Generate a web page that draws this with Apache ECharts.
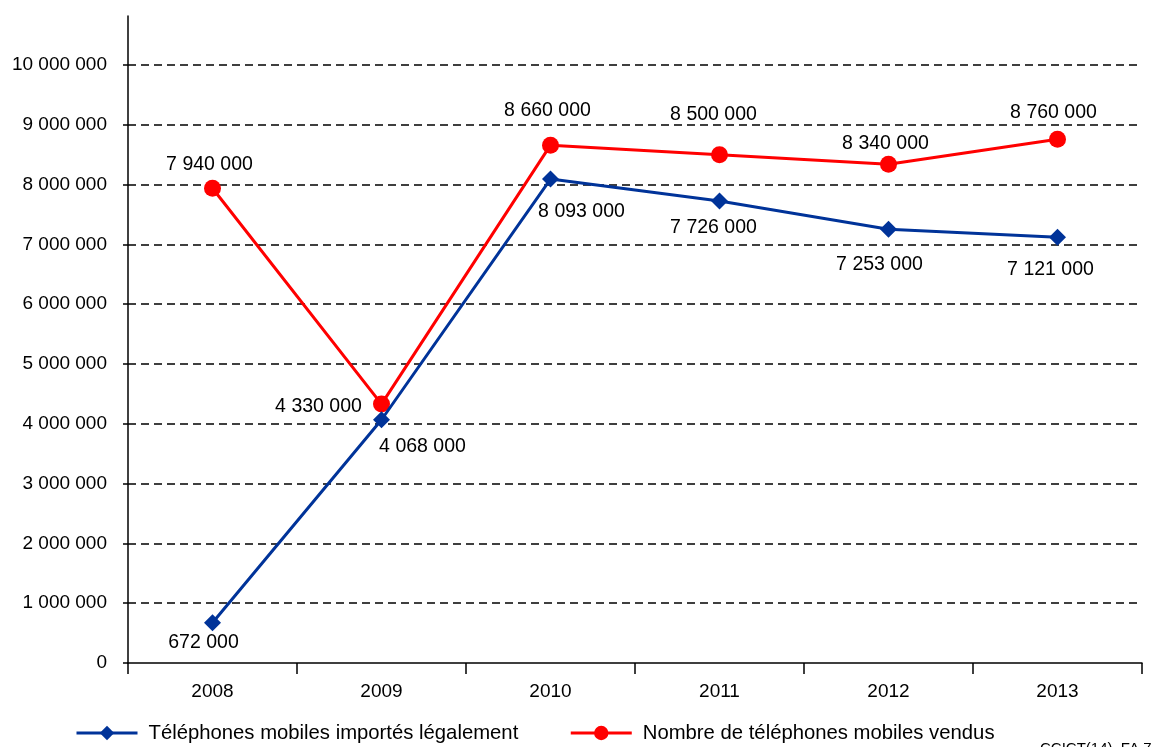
<!DOCTYPE html>
<html><head><meta charset="utf-8">
<script src="https://cdn.jsdelivr.net/npm/echarts@6/dist/echarts.min.js"></script>
<style>html,body{margin:0;padding:0;background:#fff}#c{width:1153px;height:747px}</style>
</head><body><div id="c"></div>
<script>
var categories = ['2008','2009','2010','2011','2012','2013'];
var imported = [672000, 4068000, 8093000, 7726000, 7253000, 7121000];
var sold = [7940000, 4330000, 8660000, 8500000, 8340000, 8760000];
var seriesNames = ['Téléphones mobiles importés légalement', 'Nombre de téléphones mobiles vendus'];
var yTicks = [0, 1000000, 2000000, 3000000, 4000000, 5000000, 6000000, 7000000, 8000000, 9000000, 10000000];
var footnote = 'CCICT(14)_FA 7';

// label offsets (style, kept separate from data)
var importedOffsets = [[-9,20],[41,27],[31,33],[-6,27],[-9,35],[-7,32]];
var soldOffsets = [[-3,-24],[-63,3],[-3,-35],[-6,-40],[-3,-21],[-4,-27]];

function fmt(v){ return String(v).replace(/\B(?=(\d{3})+(?!\d))/g, ' '); }
var FONT = 'Liberation Sans, Arial, sans-serif';

function build(vals, offs){
  return vals.map(function(v,i){
    return {value: v, label: {offset: offs[i]}};
  });
}

var chart = echarts.init(document.getElementById('c'));
chart.setOption({
  animation: false,
  textStyle: {fontFamily: FONT},
  grid: {left: 128, right: 11, top: 16, bottom: 84, containLabel: false},
  legend: {
    left: 75, top: 723, padding: 0, itemWidth: 61, itemHeight: 18, itemGap: 51,
    textStyle: {fontSize: 20.3, color: '#000', fontFamily: FONT, padding: [0,0,0,6]},
    lineStyle: {width: 3},
    data: seriesNames
  },
  xAxis: {
    type: 'category', data: categories, boundaryGap: true,
    axisLine: {lineStyle: {color: '#000', width: 1.5}},
    axisTick: {show: true, length: 11, inside: false, lineStyle: {color: '#000', width: 1.5}},
    axisLabel: {fontSize: 19, color: '#000', margin: 19, fontFamily: FONT}
  },
  yAxis: {
    type: 'value', min: 0, max: 10820000, interval: 1000000,
    axisLine: {show: true, lineStyle: {color: '#000', width: 1.5}},
    axisTick: {show: true, length: 5, lineStyle: {color: '#000', width: 1.5}},
    axisLabel: {fontSize: 19, color: '#000', margin: 21, showMaxLabel: false, fontFamily: FONT,
      formatter: function(v){ return yTicks.indexOf(v) >= 0 ? fmt(v) : ''; }},
    splitLine: {show: true, showMinLine: false, showMaxLine: false, lineStyle: {color: '#000', width: 1.5, type: [8,5]}}
  },
  graphic: [{
    type: 'text', left: 1040, top: 741,
    style: {text: footnote, fontSize: 15, fill: '#000', fontFamily: FONT}
  }],
  series: [
    {
      name: seriesNames[0], type: 'line', data: build(imported, importedOffsets),
      symbol: 'diamond', symbolSize: 17,
      lineStyle: {color: '#003399', width: 3},
      itemStyle: {color: '#003399'},
      label: {show: true, position: 'inside', fontSize: 19.5, color: '#000', fontFamily: FONT,
        formatter: function(p){ return fmt(p.value); }},
      z: 3
    },
    {
      name: seriesNames[1], type: 'line', data: build(sold, soldOffsets),
      symbol: 'circle', symbolSize: 17,
      lineStyle: {color: '#ff0000', width: 3},
      itemStyle: {color: '#ff0000'},
      label: {show: true, position: 'inside', fontSize: 19.5, color: '#000', fontFamily: FONT,
        formatter: function(p){ return fmt(p.value); }},
      z: 2
    }
  ]
});
</script>
</body></html>
